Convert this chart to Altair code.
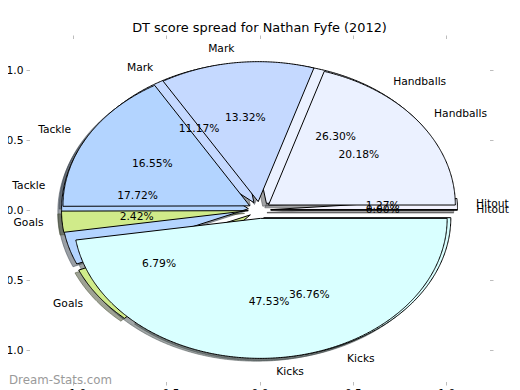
import altair as alt
import numpy as np
import pandas as pd

# ---- data ----
categories = ["Hitout", "Handballs", "Mark", "Tackle", "Goals", "Kicks"]
under_values = [1.27, 26.30, 11.17, 17.72, 6.79, 36.76]   # pie drawn first
over_values = [0.00, 20.18, 13.32, 16.55, 2.42, 47.53]    # pie drawn on top
slice_colors = ["#F4F4FF", "#EBF1FF", "#C5D9FF", "#B3D4FF", "#D0EB8A", "#D9FFFF"]
tick_values = [-1.0, -0.5, 0.0, 0.5, 1.0]
title_text = "DT score spread for Nathan Fyfe (2012)"
watermark_text = "Dream-Stats.com"

EXPLODE = 0.06
SHADOW_SHIFT = -0.02
LABEL_DIST = 1.1
PCT_DIST = 0.6
FONT = "DejaVu Sans"
LABEL_SIZE = 10.7


def shade(hex_color):
    r, g, b = (int(hex_color[i:i + 2], 16) for i in (1, 3, 5))
    return "#%02x%02x%02x" % tuple(int(round(0.3 * c)) for c in (r, g, b))


# pie layout (like matplotlib's pie) computed from the values
wedge_rows, text_rows = [], []
for pie_name, values in (("under", under_values), ("over", over_values)):
    total = float(sum(values))
    start = 0.0
    for cat, val, col in zip(categories, values, slice_colors):
        t1 = start
        t2 = start + 360.0 * val / total
        start = t2
        mid = np.deg2rad(0.5 * (t1 + t2))
        cx, cy = EXPLODE * np.cos(mid), EXPLODE * np.sin(mid)
        n = max(2, int(np.ceil((t2 - t1) / 0.5)) + 1)
        ang = np.deg2rad(np.linspace(t1, t2, n))
        xs = np.concatenate([[cx], cx + np.cos(ang), [cx]])
        ys = np.concatenate([[cy], cy + np.sin(ang), [cy]])
        for k, (x, y) in enumerate(zip(xs, ys)):
            wedge_rows.append({
                "pie": pie_name, "slice": cat, "key": pie_name + "-" + cat,
                "idx": k, "x": x, "y": y,
                "sx": x + SHADOW_SHIFT, "sy": y + SHADOW_SHIFT,
                "fill": col, "shadow": shade(col),
            })
        lx = cx + LABEL_DIST * np.cos(mid)
        ly = cy + LABEL_DIST * np.sin(mid)
        text_rows.append({"pie": pie_name, "kind": "label", "text": cat,
                          "x": lx, "y": ly, "side": "left" if lx > 0 else "right"})
        text_rows.append({"pie": pie_name, "kind": "pct",
                          "text": "%.2f%%" % (100.0 * val / total),
                          "x": cx + PCT_DIST * np.cos(mid),
                          "y": cy + PCT_DIST * np.sin(mid), "side": "center"})

wedges = pd.DataFrame(wedge_rows)
texts = pd.DataFrame(text_rows)

sx = alt.Scale(domain=[-1.25, 1.25], nice=False, zero=False)
sy = alt.Scale(domain=[-1.25, 1.25], nice=False, zero=False)

tick_style = dict(values=tick_values, domain=False, grid=False, tickSize=3.5,
                  offset=-3.5, tickColor="#bdbdbd", tickWidth=1, title=None,
                  labelFont=FONT, labelFontSize=LABEL_SIZE, labelColor="black",
                  labelPadding=3, format=".1f")

bottom_axis = alt.Axis(orient="bottom", **tick_style)
left_axis = alt.Axis(orient="left", **tick_style)
top_axis = alt.Axis(orient="top", labels=False, **tick_style)
right_axis = alt.Axis(orient="right", labels=False, **tick_style)

shadows = alt.Chart(wedges).mark_line(
    strokeWidth=1, fillOpacity=0.5, strokeOpacity=0.5
).encode(
    x=alt.X("sx:Q", scale=sx, axis=bottom_axis),
    y=alt.Y("sy:Q", scale=sy, axis=left_axis),
    fill=alt.Fill("shadow:N", scale=None),
    stroke=alt.Stroke("shadow:N", scale=None),
    detail="key:N",
    order="idx:Q",
)


def pie_layer(name):
    return alt.Chart(wedges).transform_filter(
        alt.datum.pie == name
    ).mark_line(stroke="black", strokeWidth=1, strokeJoin="miter").encode(
        x=alt.X("x:Q", scale=sx, axis=None),
        y=alt.Y("y:Q", scale=sy, axis=None),
        fill=alt.Fill("fill:N", scale=None),
        detail="key:N",
        order="idx:Q",
    )


frame = alt.Chart(pd.DataFrame({"v": tick_values})).mark_point(opacity=0).encode(
    x=alt.X("v:Q", scale=sx, axis=top_axis),
    y=alt.Y("v:Q", scale=sy, axis=right_axis),
)


def text_layer(side):
    return alt.Chart(texts).transform_filter(
        alt.datum.side == side
    ).mark_text(align=side, baseline="middle", font=FONT, fontSize=LABEL_SIZE,
                color="black").encode(
        x=alt.X("x:Q", scale=sx, axis=None),
        y=alt.Y("y:Q", scale=sy, axis=None),
        text="text:N",
    )


watermark = alt.Chart(pd.DataFrame({"t": [watermark_text]})).mark_text(
    align="left", baseline="middle", font=FONT, fontSize=11.8, color="#9a9a9a"
).encode(x=alt.value(-17), y=alt.value(345), text="t:N")

chart = alt.layer(
    shadows, pie_layer("under"), pie_layer("over"), frame,
    text_layer("left"), text_layer("right"), text_layer("center"), watermark,
).resolve_axis(x="independent", y="independent").properties(
    width=467, height=350,
    title=alt.Title(title_text, font=FONT, fontSize=12.9, fontWeight="normal",
                    color="black", anchor="middle", baseline="alphabetic", offset=-10),
    autosize=alt.AutoSizeParams(type="none"),
    padding={"left": 18, "top": 27, "right": 19, "bottom": 5},
).configure_view(strokeWidth=0)

chart.save("out.html", embed_options={"renderer": "svg", "actions": False})
